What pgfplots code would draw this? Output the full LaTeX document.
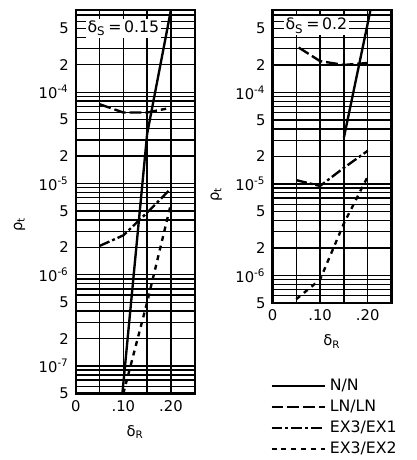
\documentclass[border=0pt]{standalone}
\usepackage{fontspec}
\setmainfont{DejaVu Sans}
\usepackage{pgfplots}
\pgfplotsset{compat=1.18}
\tikzset{
  nn/.style={black, line width=1.2pt},
  ln/.style={black, line width=1.2pt, dash pattern=on 6pt off 2pt},
  exa/.style={black, line width=1.2pt, dash pattern=on 5.5pt off 1.5pt on 1.5pt off 1.5pt},
  exb/.style={black, line width=1.2pt, dash pattern=on 2.5pt off 2.5pt},
}
\begin{document}
\begin{tikzpicture}[font=\fontsize{7.5}{8}\selectfont]
\path (-38.5pt,5pt) rectangle (173pt,-226pt);
% left panel
\begin{axis}[
  ymode=log, scale only axis, width=60.5pt, height=195pt,
  at={(0pt,0pt)}, anchor=north west,
  xmin=0, xmax=0.25, ymin=5e-8, ymax=8e-4,
  xtick={0,0.1,0.2}, xticklabels={0,.10,.20},
  minor xtick={0.05,0.15},
  grid=both,
  major grid style={black, line width=0.7pt},
  minor grid style={black, line width=0.7pt},
  axis line style={line width=1.2pt},
  major tick length=0pt, minor tick length=0pt,
  xlabel={δ\textsubscript{R}},
  ylabel={ρ\textsubscript{t}},
  ylabel style={at={(ticklabel cs:0.44)}},
  ytick={5e-8,1e-7,2e-7,5e-7,1e-6,2e-6,5e-6,1e-5,2e-5,5e-5,1e-4,2e-4,5e-4},
  yticklabels={5,10\textsuperscript{-7},2,5,10\textsuperscript{-6},2,5,10\textsuperscript{-5},2,5,10\textsuperscript{-4},2,5},
  minor ytick={6e-8,7e-8,8e-8,9e-8,3e-7,4e-7,6e-7,7e-7,8e-7,9e-7,3e-6,4e-6,6e-6,7e-6,8e-6,9e-6,3e-5,4e-5,6e-5,7e-5,8e-5,9e-5,3e-4,4e-4,6e-4,7e-4},
]
\addplot[nn] coordinates {(0.098,5e-8) (0.15,3.5e-5) (0.20,8e-4)};
\addplot[ln] coordinates {(0.05,7.4e-5) (0.10,6.0e-5) (0.15,6.0e-5) (0.19,6.6e-5)};
\addplot[exa] coordinates {(0.05,2.07e-6) (0.10,2.7e-6) (0.15,4.8e-6) (0.20,8.8e-6)};
\addplot[exb] coordinates {(0.10,5e-8) (0.15,5e-7) (0.20,6e-6)};
\node[fill=white, inner sep=1pt, anchor=north west, font=\fontsize{8}{9}\selectfont] at (rel axis cs:0.08,0.978) {δ\textsubscript{S}\,=\,0.15};
\end{axis}
% right panel
\begin{axis}[
  ymode=log, scale only axis, width=60.5pt, height=149pt,
  at={(100pt,0pt)}, anchor=north west,
  xmin=0, xmax=0.25, ymin=5e-7, ymax=8e-4,
  xtick={0,0.1,0.2}, xticklabels={0,.10,.20},
  minor xtick={0.05,0.15},
  grid=both,
  major grid style={black, line width=0.7pt},
  minor grid style={black, line width=0.7pt},
  axis line style={line width=1.2pt},
  major tick length=0pt, minor tick length=0pt,
  xlabel={δ\textsubscript{R}},
  ylabel={ρ\textsubscript{t}},
  ylabel style={at={(ticklabel cs:0.37)}},
  ytick={5e-7,1e-6,2e-6,5e-6,1e-5,2e-5,5e-5,1e-4,2e-4,5e-4},
  yticklabels={5,10\textsuperscript{-6},2,5,10\textsuperscript{-5},2,5,10\textsuperscript{-4},2,5},
  minor ytick={6e-7,7e-7,8e-7,9e-7,3e-6,4e-6,6e-6,7e-6,8e-6,9e-6,3e-5,4e-5,6e-5,7e-5,8e-5,9e-5,3e-4,4e-4,6e-4,7e-4},
  legend style={draw=none, fill=none, at={(-0.02,-0.245)}, anchor=north west,
    font=\fontsize{8}{9}\selectfont, row sep=-0.8pt, inner sep=0pt},
  legend cell align=left,
  legend image code/.code={\draw[#1] (0pt,0pt) -- (27pt,0pt);},
]
\addplot[nn] coordinates {(0.15,3.2e-5) (0.206,8e-4)};
\addplot[ln] coordinates {(0.055,3.1e-4) (0.10,2.2e-4) (0.15,2.0e-4) (0.20,2.1e-4)};
\addplot[exa] coordinates {(0.05,1.1e-5) (0.10,9.5e-6) (0.15,1.5e-5) (0.20,2.3e-5)};
\addplot[exb] coordinates {(0.05,5.5e-7) (0.10,9e-7) (0.15,3.7e-6) (0.20,1.2e-5)};
\legend{N/N, LN/LN, EX3/EX1, EX3/EX2}
\node[fill=white, inner sep=1pt, anchor=north west, font=\fontsize{8}{9}\selectfont] at (rel axis cs:0.09,0.98) {δ\textsubscript{S}\,=\,0.2};
\end{axis}
\end{tikzpicture}
\end{document}
